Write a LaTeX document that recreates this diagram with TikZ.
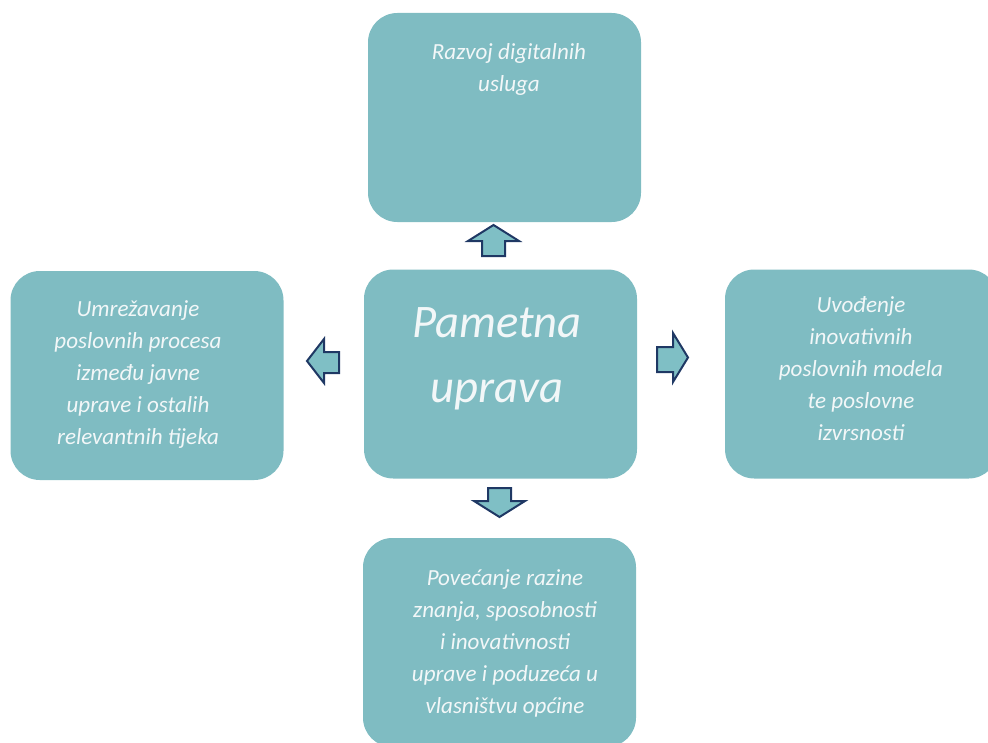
\documentclass[tikz,border=0pt]{standalone}
\usepackage{fontspec}
\setmainfont{Carlito}
\usetikzlibrary{positioning}

\definecolor{boxteal}{HTML}{7FBCC2}
\definecolor{arrowteal}{HTML}{7FBFC5}
\definecolor{arrownavy}{HTML}{1F3864}
\definecolor{labelwhite}{HTML}{F2F7F8}

\begin{document}
\begin{tikzpicture}[
    x = 0.75pt,
    y = -0.75pt,
    box/.style = {rectangle, rounded corners=22pt, fill=boxteal,
              minimum width=204.75pt, minimum height=156.75pt,
              inner sep=0pt, outer sep=0pt},
    boxlabel/.style = {text=labelwhite, align=center, inner sep=0pt,
              font=\fontsize{17.3}{24}\selectfont\itshape},
    mainlabel/.style = {text=labelwhite, align=center, inner sep=0pt,
              font=\fontsize{35}{49}\selectfont\itshape},
    blockarrow/.style = {fill=arrowteal, draw=arrownavy, line width=1.5pt,
              line join=miter},
    ]

\useasboundingbox (0,0) rectangle (988,742);
\clip (0,0) rectangle (988,742);

\node[box] (services) at (504.5,117.5){};
\node[box] (smart) at (500.5,374){};
\node[box] (network) at (147,375.5){};
\node[box] (models) at (861.5,374){};
\node[box] (knowledge) at (499.5,642.5){};

\node[boxlabel] (services_txt) at (509,69.5){Razvoj digitalnih\\usluga};
\node[mainlabel] (smart_txt) at (497,359){Pametna\\uprava};
\node[boxlabel] (network_txt) at (138,375){Umrežavanje\\poslovnih procesa\\između javne\\uprave i ostalih\\relevantnih tijeka};
\node[boxlabel] (models_txt) at (861,369){Uvođenje\\inovativnih\\poslovnih modela\\te poslovne\\izvrsnosti};
\node[boxlabel] (knowledge_txt) at (505,643.5){Povećanje razine\\znanja, sposobnosti\\i inovativnosti\\uprave i poduzeća u\\vlasništvu općine};

% block arrows out of the centre box
\draw [blockarrow] (493.5,225) -- (519,241) -- (505,241) -- (505,256)
    -- (482,256) -- (482,241) -- (468,241) -- cycle;
\draw [blockarrow] (488,488) -- (511,488) -- (511,501) -- (525,501)
    -- (499.5,517) -- (474,501) -- (488,501) -- cycle;
\draw [blockarrow] (307,361) -- (324,339) -- (324,352) -- (339,352)
    -- (339,373) -- (324,373) -- (324,383) -- cycle;
\draw [blockarrow] (657,347) -- (673,347) -- (673,333) -- (688,357.5)
    -- (673,382) -- (673,372) -- (657,372) -- cycle;

\end{tikzpicture}
\end{document}
